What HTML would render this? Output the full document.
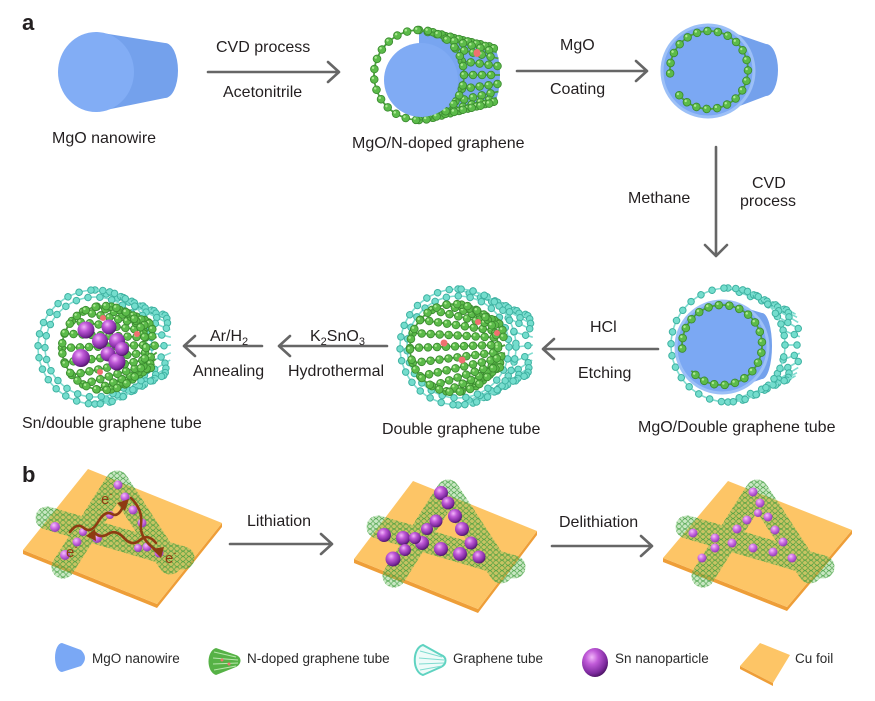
<!DOCTYPE html>
<html><head><meta charset="utf-8">
<style>
html,body{margin:0;padding:0;background:#fff;}
svg{display:block;}
text{font-family:"Liberation Sans",Arial,sans-serif;fill:#231f20;}
.t{font-size:16px;}
.lg{font-size:13.5px;fill:#2a2a2a;}
.arr{stroke:#666;stroke-width:2.6;fill:none;stroke-linecap:round;stroke-linejoin:round;}
.gl{fill:none;stroke:#4aa23c;stroke-width:1.8;}
.g1{fill:none;stroke:#3a8a2f;stroke-width:8.5;stroke-linecap:round;stroke-dasharray:0.01 9;}
.g2{fill:none;stroke:#5cbb4a;stroke-width:6.8;stroke-linecap:round;stroke-dasharray:0.01 9;}
.g3{fill:none;stroke:#aee995;stroke-width:2.4;stroke-linecap:round;stroke-dasharray:0.01 9;}
.r1{stroke-dasharray:0.01 10.5;}
.cl{fill:none;stroke:#7fdcd0;stroke-width:1.6;}
.c1{fill:none;stroke:#3fb2a2;stroke-width:7.5;stroke-linecap:round;stroke-dasharray:0.01 12;}
.c2{fill:none;stroke:#74ddcd;stroke-width:5.5;stroke-linecap:round;stroke-dasharray:0.01 12;}
.br{fill:none;stroke:#8e3b12;stroke-width:2.6;stroke-linecap:round;}
</style></head>
<body>
<svg width="875" height="701" viewBox="0 0 875 701" xmlns="http://www.w3.org/2000/svg">
<defs>
 <radialGradient id="sn" cx="0.38" cy="0.32" r="0.7">
  <stop offset="0" stop-color="#f2b6fa"/>
  <stop offset="0.35" stop-color="#c05ad8"/>
  <stop offset="0.8" stop-color="#7d2a9e"/>
  <stop offset="1" stop-color="#4e1466"/>
 </radialGradient>
 <radialGradient id="snl" cx="0.38" cy="0.32" r="0.7">
  <stop offset="0" stop-color="#f4c4fb"/>
  <stop offset="0.45" stop-color="#cf6fe6"/>
  <stop offset="1" stop-color="#8d3ab0"/>
 </radialGradient>
 <pattern id="mesh" width="6" height="5.2" patternUnits="userSpaceOnUse">
  <circle cx="3" cy="2.6" r="2.3" fill="none" stroke="#3a9a3a" stroke-width="0.6"/>
 </pattern>
 <circle id="rA" cx="419" cy="75" r="45"/>
 <path id="pB" d="M670.1,73.4 A39,39 0 1 1 679.1,95.1"/>
 <path id="pC" d="M682.2,348.5 A40,40 0 1 1 691.4,370.7"/>
 <circle id="rD1" cx="728" cy="345" r="57"/>
 <circle id="rE1" cx="458" cy="347" r="58"/>
 <circle id="rE2" cx="458" cy="347" r="51"/>
 <circle id="rE3" cx="454" cy="348" r="44"/>
 <circle id="rF1" cx="95" cy="347" r="57"/>
 <circle id="rF2" cx="95" cy="347" r="50"/>
 <circle id="rF3" cx="104" cy="348" r="42"/>
</defs>

<!-- ========== Panel a ========== -->
<text x="22" y="30" style="font-size:22px;font-weight:bold;">a</text>

<!-- MgO nanowire -->
<path d="M96,32 L165,43 A13,27.5 0 0 1 165,98 L96,112 Z" fill="#74a1ec"/>
<ellipse cx="96" cy="72" rx="38" ry="40" fill="#82adf5"/>
<text class="t" x="52" y="143">MgO nanowire</text>

<!-- arrow 1 -->
<path class="arr" d="M208,72 H339 M328,62 L339,72 L328,82"/>
<text class="t" x="216" y="52">CVD process</text>
<text class="t" x="223" y="97">Acetonitrile</text>

<!-- MgO/N-doped graphene -->
<path d="M419,30 L492,47 A8,28 0 0 1 492,103 L419,120 Z" fill="#78a5f0"/>
<g id="ndGen"></g>
<use href="#rA" class="gl"/><use href="#rA" class="g1 r1"/><use href="#rA" class="g2 r1"/><use href="#rA" class="g3 r1" transform="translate(-1.3,-1.3)"/>
<circle cx="421" cy="80" r="37" fill="#80abf4"/>
<ellipse cx="477" cy="53" rx="3.5" ry="4" fill="#f07070"/>
<text class="t" x="352" y="148">MgO/N-doped graphene</text>

<!-- arrow 2 -->
<path class="arr" d="M517,71 H647 M636,61 L647,71 L636,81"/>
<text class="t" x="560" y="50">MgO</text>
<text class="t" x="550" y="94">Coating</text>

<!-- MgO coated -->
<path d="M708,24 L766,44 A12,26 0 0 1 766,96 L708,118 Z" fill="#74a1ec"/>
<circle cx="708" cy="71" r="46" fill="#7ba8f3" stroke="#9cc0f7" stroke-width="3"/>
<use href="#pB" class="gl"/><use href="#pB" class="g1 r1"/><use href="#pB" class="g2 r1"/><use href="#pB" class="g3 r1" transform="translate(-1.3,-1.3)"/>

<!-- vertical arrow -->
<path class="arr" d="M716,147 V256 M705,245 L716,256 L727,245"/>
<text class="t" x="628" y="203">Methane</text>
<text class="t" x="752" y="188">CVD</text>
<text class="t" x="740" y="206">process</text>

<!-- MgO/Double graphene tube -->
<g id="dGenC"></g>
<use href="#rD1" class="cl"/><use href="#rD1" class="c1"/><use href="#rD1" class="c2"/>
<path d="M722,301 L762,313 A10,33 0 0 1 762,379 L722,393 Z" fill="#74a1ec"/>
<circle cx="722" cy="347" r="46" fill="#7ba8f3" stroke="#9cc0f7" stroke-width="3"/>
<use href="#pC" class="gl"/><use href="#pC" class="g1 r1"/><use href="#pC" class="g2 r1"/><use href="#pC" class="g3 r1" transform="translate(-1.3,-1.3)"/>
<text class="t" x="638" y="432">MgO/Double graphene tube</text>

<!-- HCl arrow -->
<path class="arr" d="M658,349 H543 M554,339 L543,349 L554,359"/>
<text class="t" x="590" y="332">HCl</text>
<text class="t" x="578" y="378">Etching</text>

<!-- Double graphene tube -->
<g id="eGenC"></g>
<use href="#rE1" class="cl"/><use href="#rE1" class="c1"/><use href="#rE1" class="c2"/>
<use href="#rE2" class="cl"/><use href="#rE2" class="c1"/><use href="#rE2" class="c2"/>
<g id="eGenG"></g>
<use href="#rE3" class="gl"/><use href="#rE3" class="g1 r1"/><use href="#rE3" class="g2 r1"/><use href="#rE3" class="g3 r1" transform="translate(-1.3,-1.3)"/>
<g fill="#f07070">
 <circle cx="444" cy="343" r="3.5"/><circle cx="462" cy="360" r="3.5"/>
 <circle cx="478" cy="322" r="3"/><circle cx="497" cy="333" r="3"/>
</g>
<text class="t" x="382" y="434">Double graphene tube</text>

<!-- K2SnO3 arrow -->
<path class="arr" d="M387,346 H279 M290,336 L279,346 L290,356"/>
<text class="t" x="310" y="341">K<tspan font-size="11" dy="4">2</tspan><tspan dy="-4">SnO</tspan><tspan font-size="11" dy="4">3</tspan></text>
<text class="t" x="288" y="376">Hydrothermal</text>

<!-- Ar/H2 arrow -->
<path class="arr" d="M262,346 H184 M195,336 L184,346 L195,356"/>
<text class="t" x="210" y="341">Ar/H<tspan font-size="11" dy="4">2</tspan></text>
<text class="t" x="193" y="376">Annealing</text>

<!-- Sn/double graphene tube -->
<g id="fGenC"></g>
<use href="#rF1" class="cl"/><use href="#rF1" class="c1"/><use href="#rF1" class="c2"/>
<use href="#rF2" class="cl"/><use href="#rF2" class="c1"/><use href="#rF2" class="c2"/>
<g id="fGenG"></g>
<use href="#rF3" class="gl"/><use href="#rF3" class="g1 r1"/><use href="#rF3" class="g2 r1"/><use href="#rF3" class="g3 r1" transform="translate(-1.3,-1.3)"/>
<g fill="#f07070"><circle cx="103" cy="318" r="3"/><circle cx="137" cy="334" r="3"/><circle cx="100" cy="372" r="3"/></g>
<g fill="url(#sn)">
 <circle cx="86" cy="330" r="8.5"/><circle cx="109" cy="327" r="7.5"/>
 <circle cx="100" cy="341" r="8"/><circle cx="117" cy="341" r="8"/>
 <circle cx="81" cy="358" r="9"/><circle cx="108" cy="354" r="7.5"/>
 <circle cx="117" cy="362" r="8.5"/><circle cx="122" cy="349" r="7"/>
</g>
<text class="t" x="22" y="428">Sn/double graphene tube</text>

<!-- ========== Panel b ========== -->
<text x="22" y="482" style="font-size:22px;font-weight:bold;">b</text>

<!-- foil 1 -->
<polygon points="23,550 157,604 222,523 222,527 157,608 23,554" fill="#ee9e38"/>
<polygon points="23,550 88,469 222,523 157,604" fill="#fdc566"/>
<g id="legs">
 <path d="M117,482 L63,567 M117,482 L170,563 M47,518 L183,558" stroke="#6fbf5f" stroke-opacity="0.38" stroke-width="23" fill="none" stroke-linecap="round"/>
 <path d="M117,482 L63,567 M117,482 L170,563 M47,518 L183,558" stroke="url(#mesh)" stroke-width="23" fill="none" stroke-linecap="round"/>
</g>
<g fill="url(#snl)">
 <circle cx="118" cy="485" r="4.5"/><circle cx="125" cy="497" r="4.5"/><circle cx="133" cy="510" r="4.5"/>
 <circle cx="142" cy="523" r="4.5"/><circle cx="147" cy="547" r="4.5"/><circle cx="138" cy="548" r="4"/>
 <circle cx="159" cy="553" r="4.5"/><circle cx="97" cy="538" r="5"/><circle cx="77" cy="542" r="4.5"/>
 <circle cx="65" cy="555" r="5"/><circle cx="55" cy="527" r="5"/><circle cx="83" cy="532" r="4"/>
 <circle cx="110" cy="515" r="4"/>
</g>
<path class="br" d="M70,532 q7,-10 14,-4 t14,-6 t14,-8 t12,-10"/>
<polygon points="129,499 117,503 125,511" fill="#8e3b12"/>
<path class="br" d="M131,498 q12,12 10,26 t15,26"/>
<polygon points="161,558 152,549 164,547" fill="#8e3b12"/>
<path class="br" d="M156,543 q-8,-10 -16,-3 t-16,-2 t-16,-4 t-14,-2"/>
<polygon points="86,536 95,529 96,541" fill="#8e3b12"/>
<text x="101" y="504" style="font-size:15px;fill:#8e3b12;">e<tspan font-size="9" dy="-7">-</tspan></text>
<text x="66" y="557" style="font-size:15px;fill:#8e3b12;">e<tspan font-size="9" dy="-7">-</tspan></text>
<text x="165" y="563" style="font-size:15px;fill:#8e3b12;">e<tspan font-size="9" dy="-7">-</tspan></text>

<!-- Lithiation arrow -->
<path class="arr" d="M230,544 H332 M321,534 L332,544 L321,554"/>
<text class="t" x="247" y="526">Lithiation</text>

<!-- foil 2 -->
<polygon points="354,559 478,609 537,531 537,535 478,613 354,563" fill="#ee9e38"/>
<polygon points="354,559 413,481 537,531 478,609" fill="#fdc566"/>
<use href="#legs" transform="translate(331,9)"/>
<g fill="url(#sn)">
 <circle cx="441" cy="493" r="7"/><circle cx="448" cy="503" r="6.5"/><circle cx="455" cy="516" r="7"/>
 <circle cx="462" cy="529" r="7"/><circle cx="471" cy="543" r="6.5"/><circle cx="479" cy="557" r="6.5"/>
 <circle cx="436" cy="521" r="6.5"/><circle cx="427" cy="529" r="6"/><circle cx="422" cy="543" r="7"/>
 <circle cx="403" cy="538" r="7"/><circle cx="405" cy="550" r="6"/><circle cx="384" cy="535" r="7"/>
 <circle cx="393" cy="559" r="7.5"/><circle cx="441" cy="549" r="7"/><circle cx="460" cy="554" r="7"/>
 <circle cx="415" cy="538" r="6"/>
</g>

<!-- Delithiation arrow -->
<path class="arr" d="M552,546 H652 M641,536 L652,546 L641,556"/>
<text class="t" x="559" y="527">Delithiation</text>

<!-- foil 3 -->
<polygon points="663,558 787,607 852,530 852,534 787,611 663,562" fill="#ee9e38"/>
<polygon points="663,558 728,481 852,530 787,607" fill="#fdc566"/>
<use href="#legs" transform="translate(640,9)"/>
<g fill="url(#snl)">
 <circle cx="753" cy="492" r="4.5"/><circle cx="760" cy="503" r="4.5"/><circle cx="768" cy="517" r="4.5"/>
 <circle cx="775" cy="530" r="4.5"/><circle cx="783" cy="542" r="4.5"/><circle cx="792" cy="558" r="4.5"/>
 <circle cx="747" cy="520" r="4.5"/><circle cx="737" cy="529" r="4.5"/><circle cx="732" cy="543" r="4.5"/>
 <circle cx="715" cy="538" r="4.5"/><circle cx="715" cy="548" r="4.5"/><circle cx="693" cy="533" r="4.5"/>
 <circle cx="702" cy="558" r="4.5"/><circle cx="753" cy="548" r="4.5"/><circle cx="773" cy="552" r="4.5"/>
 <circle cx="758" cy="513" r="4"/>
</g>

<!-- ========== Legend ========== -->
<path d="M62,643 L81,650 Q89,658 81,666 L62,672 A7,14.5 0 0 1 62,643 Z" fill="#7aa8f5"/>
<text class="lg" x="92" y="663">MgO nanowire</text>

<path d="M216,648 C206,651 206,672 216,675 L236,667 C242,664 242,657 236,655 Z" fill="#56b246"/>
<path d="M214,652 L236,657 M213,658 L238,660 M213,664 L238,663 M214,670 L236,666" stroke="#b9e6ac" stroke-width="1" fill="none"/>
<circle cx="222" cy="660" r="1.5" fill="#f07070"/><circle cx="229" cy="664" r="1.5" fill="#f07070"/>
<text class="lg" x="247" y="663">N-doped graphene tube</text>

<path d="M423,645 C412,648 412,672 423,675 L441,667 C447,664 447,657 441,655 Z" fill="#eefbf9" stroke="#5fd3c1" stroke-width="2"/>
<path d="M420,651 L442,657 M419,658 L444,660 M419,664 L444,663 M420,670 L442,666" stroke="#7fdcd0" stroke-width="1" fill="none"/>
<text class="lg" x="453" y="663">Graphene tube</text>

<ellipse cx="595" cy="662.5" rx="13" ry="14.5" fill="url(#sn)"/>
<text class="lg" x="615" y="663">Sn nanoparticle</text>

<polygon points="740,666 773,683 773,686 740,669" fill="#ee9e38"/>
<polygon points="740,666 760,643 790,655 773,683" fill="#fdc566"/>
<text class="lg" x="795" y="663">Cu foil</text>
</svg>

<script>
(function(){
 var NS="http://www.w3.org/2000/svg";
 function P(g,d,cls,tr){var p=document.createElementNS(NS,'path');p.setAttribute('d',d);p.setAttribute('class',cls);if(tr)p.setAttribute('transform',tr);g.appendChild(p);}
 function balls(g,d,k){
  if(k==='g'){P(g,d,'gl');P(g,d,'g1');P(g,d,'g2');P(g,d,'g3','translate(-1.3,-1.3)');}
  else{P(g,d,'cl');P(g,d,'c1');P(g,d,'c2');}
 }
 function tube(id,cx,cy,r,ex,ey,erx,ery,a0,a1,st,k){
  var g=document.getElementById(id);if(!g)return;
  for(var a=a0;a<=a1+0.001;a+=st){
   var t=a*Math.PI/180,c=Math.cos(t),s=Math.sin(t);
   var d='M'+(cx+r*c).toFixed(1)+','+(cy+r*s).toFixed(1)+'L'+(ex+erx*c).toFixed(1)+','+(ey+ery*s).toFixed(1);
   balls(g,d,k);
  }
 }
 tube('ndGen',419,75,45,492,75,8,28,-90,90,18,'g');
 tube('dGenC',728,345,57,794,345,6,32,-90,90,15,'c');
 tube('eGenC',458,347,58,527,345,6,30,-90,90,15,'c');
 tube('eGenG',454,348,44,500,345,5,22,0,340,20,'g');
 tube('fGenC',95,347,57,165,345,6,30,-90,90,15,'c');
 tube('fGenG',104,348,42,152,345,5,22,0,340,20,'g');
})();
</script>
</body></html>
